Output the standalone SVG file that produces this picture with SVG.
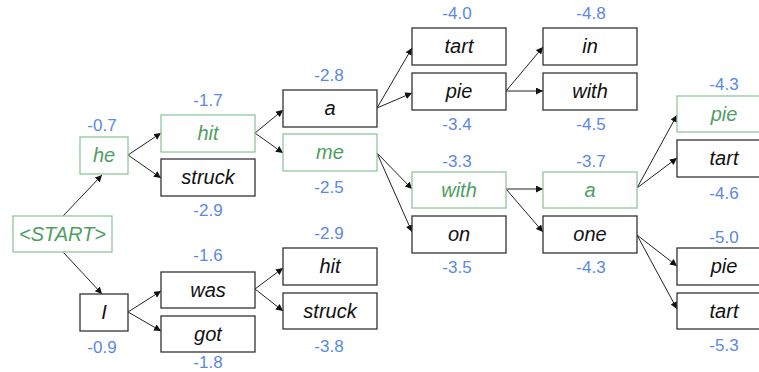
<svg xmlns="http://www.w3.org/2000/svg" width="759" height="372" viewBox="0 0 759 372">
<defs>
<marker id="ah" viewBox="0 0 10 10" refX="10" refY="5" markerWidth="7" markerHeight="7" markerUnits="userSpaceOnUse" orient="auto">
<path d="M0,0 L10,5 L0,10 z" fill="#111"/>
</marker>
<style>
.bx{fill:#fff;stroke:#333;stroke-width:1.3}
.gb{fill:#fff;stroke:#8fc89c;stroke-width:1.3}
.t{font-family:"Liberation Sans",Arial,sans-serif;font-style:italic;font-size:20px;fill:#111;text-anchor:middle}
.gt{fill:#4f9e63}
.s{font-family:"Liberation Sans",Arial,sans-serif;font-size:17px;fill:#5a88e6;text-anchor:middle}
.c{stroke:#222;stroke-width:1;fill:none;marker-end:url(#ah)}
</style>
</defs>
<rect width="759" height="372" fill="#fff"/>
<g id="connectors">
<line class="c" x1="63" y1="216" x2="102" y2="175"/>
<line class="c" x1="63" y1="252" x2="102" y2="294"/>
<line class="c" x1="128" y1="155" x2="161" y2="133"/>
<line class="c" x1="128" y1="155" x2="161" y2="178"/>
<line class="c" x1="128" y1="312" x2="161" y2="291"/>
<line class="c" x1="128" y1="312" x2="161" y2="331"/>
<line class="c" x1="255" y1="289" x2="283" y2="268"/>
<line class="c" x1="255" y1="289" x2="283" y2="311"/>
<line class="c" x1="255" y1="133" x2="283" y2="110"/>
<line class="c" x1="255" y1="133" x2="283" y2="153"/>
<line class="c" x1="377" y1="108" x2="412" y2="48"/>
<line class="c" x1="377" y1="108" x2="412" y2="93"/>
<line class="c" x1="506" y1="91" x2="543" y2="47"/>
<line class="c" x1="506" y1="91" x2="543" y2="91"/>
<line class="c" x1="377" y1="153" x2="412" y2="189"/>
<line class="c" x1="377" y1="153" x2="412" y2="232"/>
<line class="c" x1="506" y1="189" x2="543" y2="189"/>
<line class="c" x1="506" y1="189" x2="543" y2="232"/>
<line class="c" x1="637" y1="188" x2="677" y2="115"/>
<line class="c" x1="637" y1="188" x2="677" y2="158"/>
<line class="c" x1="637" y1="235" x2="677" y2="266"/>
<line class="c" x1="637" y1="235" x2="677" y2="309"/>
</g>
<g id="start"><rect class="gb" x="13" y="216" width="99" height="36"/><text class="t gt" x="62.5" y="241">&lt;START&gt;</text></g>
<g id="he"><rect class="gb" x="80" y="137" width="48" height="37"/><text class="t gt" x="104" y="162">he</text><text class="s" x="102" y="131">-0.7</text></g>
<g id="I"><rect class="bx" x="80" y="294" width="48" height="37"/><text class="t" x="104" y="319">I</text><text class="s" x="102" y="353">-0.9</text></g>
<g id="hit"><rect class="gb" x="161" y="115" width="94" height="37"/><text class="t gt" x="208" y="140">hit</text><text class="s" x="208" y="106">-1.7</text></g>
<g id="struck"><rect class="bx" x="161" y="159" width="94" height="37"/><text class="t" x="208" y="184">struck</text><text class="s" x="208" y="216">-2.9</text></g>
<g id="was"><rect class="bx" x="161" y="272" width="94" height="36"/><text class="t" x="208" y="297">was</text><text class="s" x="208" y="261">-1.6</text></g>
<g id="got"><rect class="bx" x="161" y="316" width="94" height="36"/><text class="t" x="208" y="341">got</text><text class="s" x="208" y="368">-1.8</text></g>
<g id="a1"><rect class="bx" x="283" y="90" width="94" height="37"/><text class="t" x="330" y="115">a</text><text class="s" x="329" y="81">-2.8</text></g>
<g id="me"><rect class="gb" x="283" y="134" width="94" height="37"/><text class="t gt" x="330" y="159">me</text><text class="s" x="329" y="193">-2.5</text></g>
<g id="hit2"><rect class="bx" x="283" y="248" width="94" height="37"/><text class="t" x="330" y="273">hit</text><text class="s" x="329" y="239">-2.9</text></g>
<g id="struck2"><rect class="bx" x="283" y="293" width="94" height="36"/><text class="t" x="330" y="318">struck</text><text class="s" x="329" y="352">-3.8</text></g>
<g id="tart1"><rect class="bx" x="412" y="28" width="94" height="37"/><text class="t" x="459" y="53">tart</text><text class="s" x="457" y="19">-4.0</text></g>
<g id="pie1"><rect class="bx" x="412" y="73" width="94" height="37"/><text class="t" x="459" y="98">pie</text><text class="s" x="457" y="130">-3.4</text></g>
<g id="with1"><rect class="gb" x="412" y="172" width="94" height="36"/><text class="t gt" x="459" y="197">with</text><text class="s" x="457" y="167">-3.3</text></g>
<g id="on"><rect class="bx" x="412" y="216" width="94" height="37"/><text class="t" x="459" y="241">on</text><text class="s" x="457" y="273">-3.5</text></g>
<g id="in"><rect class="bx" x="543" y="28" width="94" height="37"/><text class="t" x="590" y="53">in</text><text class="s" x="591" y="19">-4.8</text></g>
<g id="with2"><rect class="bx" x="543" y="73" width="94" height="37"/><text class="t" x="590" y="98">with</text><text class="s" x="591" y="130">-4.5</text></g>
<g id="a2"><rect class="gb" x="543" y="172" width="94" height="36"/><text class="t gt" x="590" y="197">a</text><text class="s" x="591" y="167">-3.7</text></g>
<g id="one"><rect class="bx" x="543" y="216" width="94" height="37"/><text class="t" x="590" y="241">one</text><text class="s" x="591" y="273">-4.3</text></g>
<g id="pie2"><rect class="gb" x="677" y="96" width="94" height="36"/><text class="t gt" x="724" y="121">pie</text><text class="s" x="724" y="90">-4.3</text></g>
<g id="tart2"><rect class="bx" x="677" y="140" width="94" height="37"/><text class="t" x="724" y="165">tart</text><text class="s" x="724" y="199">-4.6</text></g>
<g id="pie3"><rect class="bx" x="677" y="248" width="94" height="37"/><text class="t" x="724" y="273">pie</text><text class="s" x="724" y="243">-5.0</text></g>
<g id="tart3"><rect class="bx" x="677" y="293" width="94" height="36"/><text class="t" x="724" y="318">tart</text><text class="s" x="724" y="351">-5.3</text></g>
</svg>
